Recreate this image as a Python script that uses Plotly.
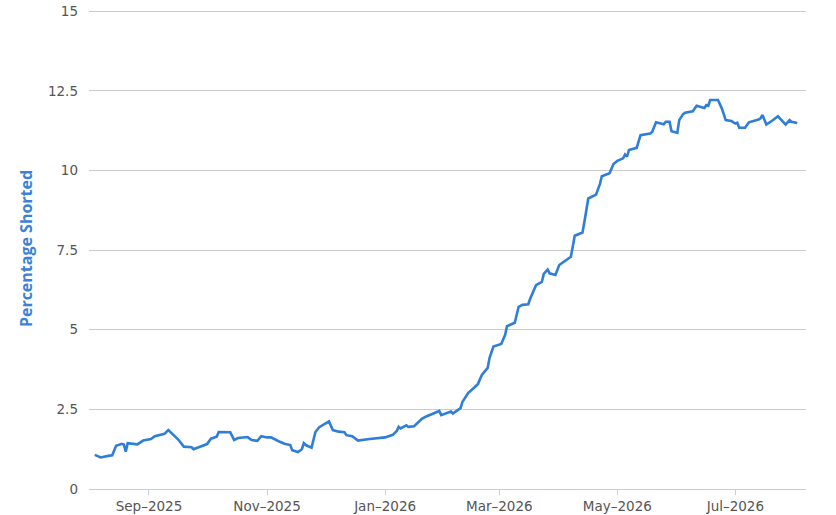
import plotly.graph_objects as go

dates = [
    "2025-08-04", "2025-08-07", "2025-08-11", "2025-08-13", "2025-08-15", "2025-08-18",
    "2025-08-19", "2025-08-20", "2025-08-21", "2025-08-26", "2025-08-29", "2025-09-02",
    "2025-09-04", "2025-09-09", "2025-09-11", "2025-09-16", "2025-09-19", "2025-09-23",
    "2025-09-24", "2025-09-29", "2025-10-01", "2025-10-03", "2025-10-06", "2025-10-07",
    "2025-10-13", "2025-10-15", "2025-10-17", "2025-10-22", "2025-10-24", "2025-10-27",
    "2025-10-29", "2025-11-01", "2025-11-03", "2025-11-07", "2025-11-10", "2025-11-13",
    "2025-11-14", "2025-11-17", "2025-11-19", "2025-11-20", "2025-11-21", "2025-11-24",
    "2025-11-26", "2025-11-28", "2025-12-03", "2025-12-05", "2025-12-08", "2025-12-11",
    "2025-12-12", "2025-12-15", "2025-12-18", "2025-12-24", "2026-01-01", "2026-01-05",
    "2026-01-07", "2026-01-08", "2026-01-09", "2026-01-12", "2026-01-13", "2026-01-16",
    "2026-01-20", "2026-01-22", "2026-01-27", "2026-01-29", "2026-01-30", "2026-02-02",
    "2026-02-04", "2026-02-05", "2026-02-09", "2026-02-10", "2026-02-13", "2026-02-16",
    "2026-02-18", "2026-02-20", "2026-02-23", "2026-02-24", "2026-02-26", "2026-03-02",
    "2026-03-04", "2026-03-05", "2026-03-09", "2026-03-11", "2026-03-13", "2026-03-16",
    "2026-03-17", "2026-03-20", "2026-03-23", "2026-03-24", "2026-03-26", "2026-03-27",
    "2026-03-30", "2026-04-01", "2026-04-06", "2026-04-07", "2026-04-09", "2026-04-13",
    "2026-04-14", "2026-04-16", "2026-04-20", "2026-04-22", "2026-04-23", "2026-04-27",
    "2026-04-29", "2026-05-01", "2026-05-04", "2026-05-05", "2026-05-06", "2026-05-07",
    "2026-05-11", "2026-05-13", "2026-05-18", "2026-05-19", "2026-05-21", "2026-05-25",
    "2026-05-26", "2026-05-28", "2026-05-29", "2026-06-01", "2026-06-02", "2026-06-04",
    "2026-06-05", "2026-06-09", "2026-06-11", "2026-06-15", "2026-06-16", "2026-06-17",
    "2026-06-18", "2026-06-22", "2026-06-24", "2026-06-26", "2026-06-29", "2026-07-01",
    "2026-07-02", "2026-07-03", "2026-07-06", "2026-07-08", "2026-07-13", "2026-07-14",
    "2026-07-15", "2026-07-17", "2026-07-20", "2026-07-23", "2026-07-27", "2026-07-29",
    "2026-07-30", "2026-08-02",
]

pct_shorted = [
    1.07, 0.99, 1.04, 1.06, 1.36, 1.42,
    1.40, 1.17, 1.44, 1.40, 1.52, 1.57,
    1.66, 1.73, 1.85, 1.56, 1.33, 1.31,
    1.25, 1.35, 1.41, 1.58, 1.64, 1.79,
    1.78, 1.54, 1.60, 1.63, 1.54, 1.51,
    1.66, 1.62, 1.62, 1.50, 1.42, 1.38,
    1.22, 1.16, 1.25, 1.44, 1.38, 1.30,
    1.79, 1.94, 2.12, 1.85, 1.80, 1.78,
    1.69, 1.66, 1.52, 1.57, 1.62, 1.70,
    1.82, 1.95, 1.90, 2.00, 1.95, 1.97,
    2.20, 2.27, 2.40, 2.45, 2.32, 2.38,
    2.43, 2.37, 2.54, 2.74, 3.02, 3.18,
    3.30, 3.58, 3.80, 4.12, 4.47, 4.55,
    4.83, 5.11, 5.22, 5.72, 5.78, 5.80,
    5.98, 6.40, 6.50, 6.75, 6.89, 6.77,
    6.72, 7.03, 7.24, 7.29, 7.95, 8.05,
    8.39, 9.12, 9.24, 9.57, 9.82, 9.91,
    10.20, 10.30, 10.38, 10.50, 10.43, 10.64,
    10.71, 11.11, 11.16, 11.21, 11.51, 11.45,
    11.53, 11.53, 11.23, 11.18, 11.58, 11.77,
    11.81, 11.86, 12.03, 11.96, 12.05, 12.03,
    12.21, 12.21, 11.95, 11.58, 11.55, 11.47,
    11.50, 11.34, 11.34, 11.51, 11.60, 11.64,
    11.74, 11.44, 11.56, 11.70, 11.44, 11.58,
    11.53, 11.49,
]

y_tick_vals = [0, 2.5, 5, 7.5, 10, 12.5, 15]
y_tick_text = ["0", "2.5", "5", "7.5", "10", "12.5", "15"]

fig = go.Figure()
fig.add_trace(go.Scatter(
    x=dates, y=pct_shorted, mode="lines",
    line=dict(color="#2f7ed8", width=2.6),
    hoverinfo="x+y", showlegend=False,
))

fig.update_layout(
    width=836, height=515,
    margin=dict(l=89, r=30, t=8, b=26),
    paper_bgcolor="white", plot_bgcolor="white",
    font=dict(family="DejaVu Sans", size=13, color="#555555"),
    xaxis=dict(
        type="date", automargin=False,
        range=["2025-08-01", "2026-08-06 12:00"],
        tick0="2025-09-01", dtick="M2", tickformat="%b–%Y",
        showgrid=False, zeroline=False,
        showline=True, linecolor="#c0d0e0", linewidth=1,
        ticks="outside", ticklen=5, tickcolor="#c0d0e0",
        tickfont=dict(family="DejaVu Sans", size=13.5, color="#555555"),
    ),
    yaxis=dict(
        range=[0, 15.1], tickvals=y_tick_vals, ticktext=y_tick_text,
        automargin=False, ticklabeloverflow="allow",
        showgrid=True, gridcolor="#cccccc", gridwidth=1,
        zeroline=False, showline=False, ticks="",
        ticklabelstandoff=10,
        tickfont=dict(family="DejaVu Sans", size=13.5, color="#555555"),
        title=dict(text="<b>Percentage Shorted</b>",
                   font=dict(family="Open Sans", size=16, color="#3a82d9"),
                   standoff=11),
    ),
)

# remove the default 8px page margin so the figure fills the window exactly
fig.write_html(
    "out.html",
    config={"displayModeBar": False},
    post_script="document.body.style.margin='0';document.body.style.overflow='hidden';",
)
